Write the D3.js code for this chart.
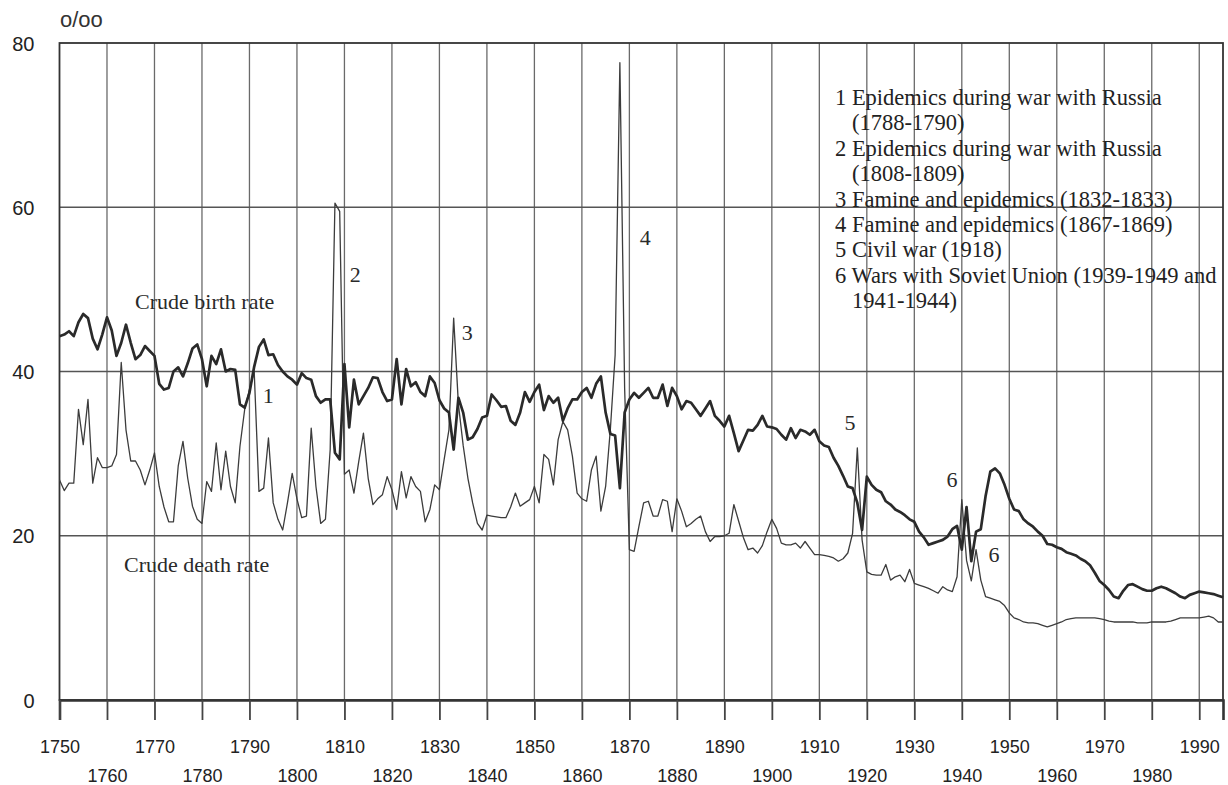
<!DOCTYPE html>
<html>
<head>
<meta charset="utf-8">
<script src="https://cdn.jsdelivr.net/npm/d3@7"></script>
<style>
  body { margin: 0; background: #fff; }
  svg { display: block; }
</style>
</head>
<body>
<script>
// crude birth / death rates per 1000, one value per year from firstYear
const firstYear = 1750;

const birthRate = [
  44.3, 44.5, 44.9, 44.3, 46.0, 47.0, 46.5, 44.0, 42.7, 44.5,
  46.6, 45.0, 41.9, 43.5, 45.7, 43.5, 41.5, 42.0, 43.1, 42.5,
  41.9, 38.5, 37.8, 38.0, 40.0, 40.5, 39.4, 41.0, 42.8, 43.3,
  41.5, 38.2, 41.9, 40.9, 42.7, 40.0, 40.3, 40.2, 36.0, 35.6,
  37.4, 40.6, 43.0, 43.9, 42.0, 42.1, 40.8, 40.0, 39.4, 39.0,
  38.4, 39.8, 39.2, 39.0, 37.0, 36.2, 36.6, 36.6, 30.1, 29.3,
  40.9, 33.2, 39.0, 36.0, 37.0, 38.0, 39.3, 39.2, 37.5, 36.4,
  36.6, 41.5, 36.0, 40.3, 38.2, 38.7, 37.5, 37.0, 39.4, 38.6,
  36.5, 35.5, 35.0, 30.5, 36.8, 35.0, 31.7, 32.0, 33.0, 34.4,
  34.6, 37.2, 36.5, 35.7, 35.8, 34.0, 33.5, 35.0, 37.5, 36.3,
  37.5, 38.4, 35.3, 37.0, 36.2, 36.8, 34.0, 35.5, 36.6, 36.6,
  37.5, 38.0, 36.8, 38.5, 39.4, 35.0, 32.4, 32.2, 25.8, 35.0,
  36.6, 37.4, 36.8, 37.4, 38.0, 36.8, 36.8, 38.4, 35.8, 38.0,
  37.0, 35.4, 36.4, 36.2, 35.4, 34.6, 35.5, 36.4, 34.6, 34.0,
  33.3, 34.6, 32.5, 30.3, 31.6, 32.9, 32.8, 33.5, 34.6, 33.3,
  33.2, 33.0, 32.3, 31.7, 33.1, 31.9, 32.9, 32.7, 32.3, 32.9,
  31.5, 31.0, 30.8, 29.5, 28.5, 27.3, 26.0, 25.8, 24.0, 20.7,
  27.2, 26.2, 25.6, 25.3, 24.2, 23.8, 23.2, 22.9, 22.5, 22.0,
  21.7, 20.5, 19.8, 18.9, 19.1, 19.3, 19.5, 19.9, 20.8, 21.2,
  18.3, 23.5, 16.9, 20.5, 20.8, 24.8, 27.8, 28.2, 27.6, 26.2,
  24.5, 23.2, 23.0, 22.0, 21.5, 21.1, 20.5, 20.0, 19.0, 18.9,
  18.6, 18.4, 18.0, 17.8, 17.6, 17.2, 16.9, 16.4, 15.5, 14.5,
  14.0, 13.4, 12.6, 12.4, 13.3, 14.0, 14.1, 13.8, 13.5, 13.3,
  13.3, 13.6, 13.8, 13.6, 13.3, 13.0, 12.6, 12.4, 12.8, 13.0,
  13.2, 13.1, 13.0, 12.9, 12.7, 12.5
];

const deathRate = [
  26.8, 25.5, 26.4, 26.4, 35.4, 31.1, 36.6, 26.4, 29.5, 28.3,
  28.3, 28.5, 29.9, 41.1, 32.9, 29.1, 29.1, 28.0, 26.2, 28.0,
  30.1, 26.0, 23.5, 21.7, 21.7, 28.5, 31.5, 27.0, 23.6, 22.0,
  21.5, 26.6, 25.4, 31.3, 25.6, 30.3, 26.0, 24.0, 30.9, 35.4,
  37.8, 40.0, 25.4, 25.8, 31.9, 24.0, 22.0, 20.7, 24.0, 27.6,
  24.5, 22.2, 22.4, 33.1, 26.0, 21.5, 22.0, 30.5, 60.5, 59.5,
  27.5, 28.0, 25.2, 29.0, 32.5, 27.0, 23.8, 24.5, 25.0, 27.2,
  25.6, 23.2, 27.8, 24.6, 27.2, 26.0, 25.4, 21.7, 23.2, 26.2,
  25.6, 29.3, 32.9, 46.5, 36.0, 31.0, 27.0, 24.0, 21.5, 20.7,
  22.5, 22.4, 22.3, 22.2, 22.2, 23.5, 25.2, 23.6, 24.0, 24.4,
  26.0, 24.0, 29.9, 29.3, 26.2, 31.7, 33.9, 32.9, 29.7, 25.2,
  24.5, 24.2, 28.0, 29.7, 23.0, 26.0, 33.0, 42.0, 77.6, 38.0,
  18.3, 18.1, 21.1, 24.0, 24.2, 22.4, 22.4, 24.4, 24.2, 20.5,
  24.5, 23.0, 21.1, 21.5, 22.0, 22.4, 20.5, 19.3, 19.9, 19.9,
  20.0, 20.3, 23.8, 21.8, 19.8, 18.3, 18.5, 17.9, 18.8, 20.5,
  22.0, 20.9, 19.1, 18.9, 18.9, 19.1, 18.5, 19.3, 18.5, 17.7,
  17.7, 17.6, 17.5, 17.3, 16.9, 17.2, 17.9, 20.3, 30.7, 19.5,
  15.6, 15.3, 15.2, 15.2, 16.5, 14.6, 15.0, 15.2, 14.4, 15.9,
  14.2, 14.0, 13.8, 13.6, 13.3, 13.0, 13.8, 13.4, 13.2, 15.0,
  24.4, 17.0, 14.5, 18.3, 14.6, 12.6, 12.4, 12.2, 12.0, 11.5,
  10.6, 10.0, 9.8, 9.5, 9.4, 9.4, 9.3, 9.1, 8.9, 9.1,
  9.3, 9.5, 9.8, 9.9, 10.0, 10.0, 10.0, 10.0, 10.0, 9.9,
  9.8, 9.6, 9.5, 9.5, 9.5, 9.5, 9.5, 9.4, 9.4, 9.4,
  9.5, 9.5, 9.5, 9.5, 9.6, 9.8, 10.0, 10.0, 10.0, 10.0,
  10.0, 10.1, 10.2, 10.0, 9.5, 9.5
];

const xTicks = [1750, 1760, 1770, 1780, 1790, 1800, 1810, 1820, 1830, 1840, 1850, 1860,
  1870, 1880, 1890, 1900, 1910, 1920, 1930, 1940, 1950, 1960, 1970, 1980, 1990];
const yTicks = [0, 20, 40, 60, 80];

const notes = [
  '1 Epidemics during war with Russia',
  '(1788-1790)',
  '2 Epidemics during war with Russia',
  '(1808-1809)',
  '3 Famine and epidemics (1832-1833)',
  '4 Famine and epidemics (1867-1869)',
  '5 Civil war (1918)',
  '6 Wars with Soviet Union (1939-1949 and',
  '1941-1944)'
];
const noteIndent = [false, true, false, true, false, false, false, false, true];

// event markers: label and where it sits (year, rate)
const markers = [
  {t: '1', yr: 1792.8, v: 36.2},
  {t: '2', yr: 1811.1, v: 50.9},
  {t: '3', yr: 1834.7, v: 43.8},
  {t: '4', yr: 1872.2, v: 55.4},
  {t: '5', yr: 1915.3, v: 32.9},
  {t: '6', yr: 1936.8, v: 25.9},
  {t: '6', yr: 1945.6, v: 16.8}
];

const W = 1228, H = 785;
const svg = d3.select('body').append('svg')
  .attr('width', W)
  .attr('height', H);

const x = d3.scaleLinear().domain([1750, 1995]).range([59.5, 1223]);
const y = d3.scaleLinear().domain([0, 80]).range([700, 43]);

const sans = 'Liberation Sans, Arial, Helvetica, sans-serif';
const serif = 'Liberation Serif, Times New Roman, serif';

// grid
const grid = svg.append('g');
grid.selectAll('line.v')
  .data(xTicks.slice(1))
  .enter().append('line')
    .attr('x1', d => x(d)).attr('x2', d => x(d))
    .attr('y1', y(80)).attr('y2', y(0))
    .attr('stroke', '#6a6a6a')
    .attr('stroke-width', 1.3);

grid.selectAll('line.h')
  .data([20, 40, 60])
  .enter().append('line')
    .attr('x1', x(1750)).attr('x2', x(1995))
    .attr('y1', d => y(d)).attr('y2', d => y(d))
    .attr('stroke', '#555')
    .attr('stroke-width', 1.6);

// frame
svg.append('rect')
  .attr('x', x(1750)).attr('y', y(80))
  .attr('width', x(1995) - x(1750))
  .attr('height', y(0) - y(80))
  .attr('fill', 'none')
  .attr('stroke', '#333')
  .attr('stroke-width', 1.8);

// x axis
const xAxis = d3.axisBottom(x)
  .tickValues(xTicks)
  .tickSize(20)
  .tickFormat(d3.format('d'));

const gx = svg.append('g')
  .attr('transform', 'translate(0,' + y(0) + ')')
  .call(xAxis);
gx.select('.domain').attr('stroke', '#333').attr('stroke-width', 2.6);
gx.selectAll('.tick line').attr('stroke', '#444').attr('stroke-width', 1.8);
gx.selectAll('.tick text')
  .attr('font-family', sans)
  .attr('font-size', 18)
  .attr('fill', '#222')
  .attr('dy', null)
  .attr('y', (d, i) => i % 2 === 0 ? 53 : 82);

// y axis
const yAxis = d3.axisLeft(y)
  .tickValues(yTicks)
  .tickSize(0)
  .tickPadding(25);
const gy = svg.append('g')
  .attr('transform', 'translate(' + x(1750) + ',0)')
  .call(yAxis);
gy.select('.domain').remove();
gy.selectAll('.tick text')
  .attr('font-family', sans)
  .attr('font-size', 20)
  .attr('fill', '#222')
  .attr('dy', '0.35em');

svg.append('text')
  .attr('x', 60).attr('y', 27)
  .attr('font-family', sans)
  .attr('font-size', 22)
  .attr('fill', '#333')
  .text('o/oo');

// series
const line = d3.line()
  .x((d, i) => x(firstYear + i))
  .y(d => y(d));

svg.append('path')
  .datum(deathRate)
  .attr('d', line)
  .attr('fill', 'none')
  .attr('stroke', '#3c3c3c')
  .attr('stroke-width', 1.3)
  .attr('stroke-linejoin', 'round');

svg.append('path')
  .datum(birthRate)
  .attr('d', line)
  .attr('fill', 'none')
  .attr('stroke', '#2a2a2a')
  .attr('stroke-width', 2.7)
  .attr('stroke-linejoin', 'round');

// labels
svg.append('text')
  .attr('x', 135).attr('y', 309)
  .attr('font-family', serif).attr('font-size', 22).attr('fill', '#2a2a2a')
  .text('Crude birth rate');

svg.append('text')
  .attr('x', 124).attr('y', 572)
  .attr('font-family', serif).attr('font-size', 22).attr('fill', '#2a2a2a')
  .text('Crude death rate');

svg.selectAll('text.mark')
  .data(markers)
  .enter().append('text')
    .attr('x', d => x(d.yr))
    .attr('y', d => y(d.v))
    .attr('font-family', serif)
    .attr('font-size', 22)
    .attr('fill', '#2a2a2a')
    .text(d => d.t);

svg.append('g')
  .selectAll('text')
  .data(notes)
  .enter().append('text')
    .attr('x', (d, i) => noteIndent[i] ? 852 : 835)
    .attr('y', (d, i) => 105 + i * 25.4)
    .attr('font-family', serif)
    .attr('font-size', 22.5)
    .attr('fill', '#222')
    .text(d => d);
</script>
</body>
</html>
